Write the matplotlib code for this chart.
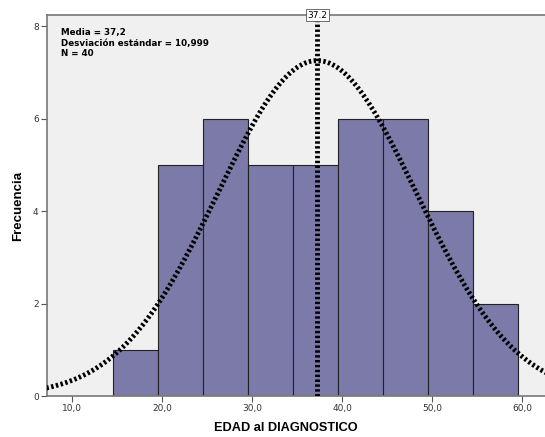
import numpy as np
import matplotlib
matplotlib.use("Agg")
import matplotlib.pyplot as plt

bin_edges = [14.55, 19.55, 24.55, 29.55, 34.55, 39.55, 44.55, 49.55, 54.55, 59.55]
counts = [1, 5, 6, 5, 5, 6, 6, 4, 2]
mean = 37.2
std = 10.999
n = 40
xticks = [10, 20, 30, 40, 50, 60]
xticklabels = ["10,0", "20,0", "30,0", "40,0", "50,0", "60,0"]
yticks = [0, 2, 4, 6, 8]

fig = plt.figure(figsize=(5.45, 4.37), dpi=100)
ax = fig.add_axes([47/545, 1-396/437, (545-47)/545, (396-15)/437])
ax.set_facecolor("#f0f0f0")

widths = np.diff(bin_edges)
ax.bar(bin_edges[:-1], counts, width=widths, align="edge", color="#7b7aa8",
       edgecolor="#222222", linewidth=0.8, zorder=2)

xs = np.linspace(5, 65, 600)
bw = widths[0]
ys = n * bw / (std * np.sqrt(2*np.pi)) * np.exp(-0.5*((xs-mean)/std)**2)
ax.plot(xs, ys, color="black", linewidth=3.5, linestyle=(0, (0.5, 0.5)), zorder=3)
ax.plot([mean, mean], [0, 8.24], color="black", linewidth=3.5,
        linestyle=(0, (0.5, 0.5)), zorder=3)
ax.text(mean, 8.24, "37.2", ha="center", va="center", fontsize=6.5,
        bbox=dict(boxstyle="square,pad=0.15", facecolor="white", edgecolor="#555555", linewidth=0.6),
        zorder=4, clip_on=False)

ax.text(8.8, 7.95, "Media = 37,2\nDesviación estándar = 10,999\nN = 40",
        fontsize=6.3, fontweight="bold", va="top", ha="left", linespacing=1.2)

ax.set_xlim(7.19, 62.5)
ax.set_ylim(0, 8.24)
ax.set_xticks(xticks)
ax.set_xticklabels(xticklabels, fontsize=6.5, color="#333333")
ax.set_yticks(yticks)
ax.set_yticklabels([str(v) for v in yticks], fontsize=6.5, color="#333333")
ax.tick_params(length=4, width=0.8, color="#555555", pad=2)
for s in ["left", "bottom", "top", "right"]:
    ax.spines[s].set_color("#777777")
    ax.spines[s].set_linewidth(1.2)
ax.spines["right"].set_visible(False)

ax.set_xlabel("EDAD al DIAGNOSTICO", fontsize=9.2, fontweight="bold",
              family="Liberation Sans")
ax.xaxis.set_label_coords((286-47)/498, -0.068)
ax.set_ylabel("Frecuencia", fontsize=9.5, fontweight="bold", labelpad=6,
              family="Liberation Sans")

fig.savefig("out.png", dpi=100, facecolor="white")
